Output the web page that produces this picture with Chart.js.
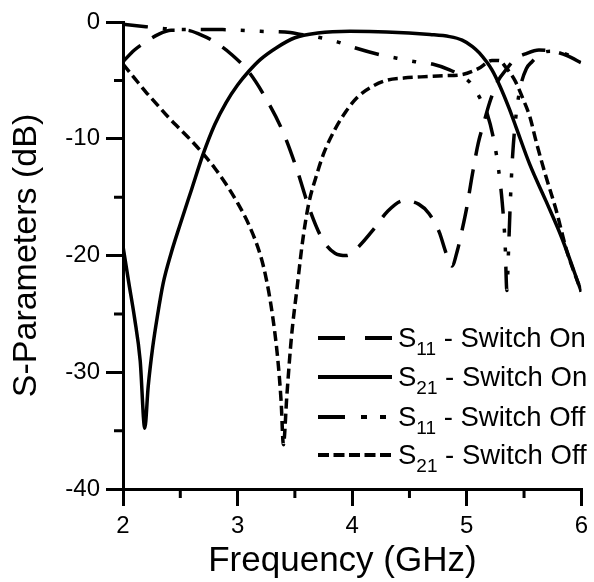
<!DOCTYPE html>
<html><head><meta charset="utf-8">
<script src="https://cdn.jsdelivr.net/npm/chart.js@4.4.1/dist/chart.umd.min.js"></script>
<style>
html,body{margin:0;padding:0;background:#fff;}
#wrap{position:relative;width:594px;height:582px;}
#legend{position:absolute;left:0;top:0;font-family:"Liberation Sans",Arial,sans-serif;font-size:27.5px;color:#000;}
.row{position:absolute;left:318px;height:40px;white-space:nowrap;display:flex;align-items:center;}
.row svg{display:block;margin-right:6px;}
.row sub{font-size:19px;vertical-align:-8px;line-height:0;}
</style>
</head><body>
<div id="wrap">
<canvas id="c" width="594" height="582"></canvas>
<div id="legend"></div>
</div>
<script>
// ---- data ----
const xTicks = [2, 3, 4, 5, 6];
const yTicks = [0, -10, -20, -30, -40];
const xMinor = [2.5, 3.5, 4.5, 5.5];
const yMinor = [-5, -15, -25, -35];

const s11OnF  = [2.0, 2.1, 2.2, 2.3, 2.42, 2.55, 2.68, 2.8, 2.95, 3.1, 3.25, 3.4, 3.52, 3.62, 3.74, 3.85, 3.95, 4.05, 4.2, 4.31, 4.45, 4.58, 4.67, 4.76, 4.82, 4.87, 4.92, 4.96, 5.0, 5.05, 5.1, 5.15, 5.2, 5.27, 5.35, 5.42, 5.52, 5.63, 5.75, 5.88, 6.0];
const s11OnDb = [-3.4, -2.4, -1.7, -1.1, -0.7, -0.7, -1.1, -1.7, -2.8, -4.3, -6.6, -9.5, -12.7, -15.8, -18.6, -19.8, -20.0, -19.3, -17.6, -16.2, -15.3, -15.6, -16.4, -18.0, -19.8, -20.9, -19.5, -17.8, -15.9, -13.0, -10.4, -8.6, -6.9, -5.1, -4.0, -3.2, -2.7, -2.4, -2.5, -2.9, -3.5];

const s21OnF  = [2.0, 2.05, 2.1, 2.15, 2.19, 2.22, 2.26, 2.3, 2.35, 2.42, 2.5, 2.6, 2.7, 2.8, 2.9, 3.0, 3.1, 3.2, 3.34, 3.5, 3.7, 3.98, 4.3, 4.68, 4.85, 4.96, 5.05, 5.11, 5.22, 5.29, 5.37, 5.43, 5.55, 5.69, 5.83, 6.0];
const s21OnDb = [-19.2, -22.3, -25.3, -29.0, -34.8, -31.2, -27.8, -25.2, -22.4, -19.8, -17.3, -14.3, -11.3, -8.8, -6.9, -5.4, -4.2, -3.2, -2.2, -1.35, -0.95, -0.8, -0.85, -1.07, -1.25, -1.55, -2.1, -2.65, -4.1, -5.5, -7.4, -9.0, -12.2, -15.3, -18.5, -23.1];

const s11OffF  = [2.0, 2.2, 2.4, 2.6, 2.87, 3.0, 3.2, 3.46, 3.57, 3.7, 3.87, 4.02, 4.24, 4.39, 4.55, 4.7, 4.85, 4.95, 5.03, 5.12, 5.18, 5.24, 5.28, 5.31, 5.335, 5.35, 5.365, 5.38, 5.4, 5.43, 5.47, 5.52, 5.57, 5.65, 5.73, 5.82, 5.9, 6.0];
const s11OffDb = [-0.2, -0.4, -0.6, -0.65, -0.65, -0.7, -0.8, -0.9, -1.1, -1.3, -1.7, -2.2, -2.8, -3.1, -3.4, -3.6, -4.1, -4.6, -5.2, -6.6, -7.9, -10.3, -12.8, -15.5, -19.0, -23.0, -19.5, -15.5, -11.5, -8.0, -5.5, -4.0, -3.4, -2.7, -2.5, -2.6, -2.9, -3.5];

const s21OffF  = [2.0, 2.1, 2.2, 2.3, 2.4, 2.5, 2.6, 2.7, 2.8, 2.9, 3.0, 3.1, 3.2, 3.25, 3.3, 3.35, 3.38, 3.4, 3.43, 3.47, 3.52, 3.57, 3.62, 3.69, 3.75, 3.85, 3.95, 4.05, 4.18, 4.3, 4.45, 4.6, 4.8, 4.96, 5.1, 5.22, 5.28, 5.35, 5.42, 5.5, 5.55, 5.61, 5.69, 5.78, 5.87, 6.0];
const s21OffDb = [-3.6, -4.8, -6.0, -7.1, -8.2, -9.2, -10.2, -11.3, -12.5, -13.9, -15.5, -17.4, -20.0, -22.0, -24.8, -28.8, -32.5, -36.2, -32.0, -27.0, -22.7, -18.6, -15.6, -13.1, -11.3, -9.2, -7.6, -6.4, -5.5, -5.0, -4.8, -4.7, -4.6, -4.5, -4.0, -3.3, -3.3, -4.0, -5.0, -6.8, -8.1, -10.4, -13.2, -16.1, -19.5, -23.1];

const seriesSubs = ["11", "21", "11", "21"];
const seriesLabels = [" - Switch On", " - Switch On", " - Switch Off", " - Switch Off"];

// ---- styles ----
const dashes = [[24, 14], [], [25, 15, 4, 15, 4, 15], [10, 5]];
const legendDashes = ["27 20", "", "27 16 6 13 6 60", "11 4.5"];
const legendRowY = [338, 377, 417, 455];

function pts(fs, ds) { return fs.map((f, i) => ({x: f, y: ds[i]})); }
const allF = [s11OnF, s21OnF, s11OffF, s21OffF];
const allDb = [s11OnDb, s21OnDb, s11OffDb, s21OffDb];

Chart.defaults.font.family = '"Liberation Sans", Arial, sans-serif';
Chart.defaults.color = '#000';

const minorTicks = {
  id: 'minorTicks',
  afterDraw(chart) {
    const ctx = chart.ctx, xs = chart.scales.x, ys = chart.scales.y;
    ctx.save();
    ctx.strokeStyle = '#000';
    ctx.lineWidth = 3;
    ctx.beginPath();
    xMinor.forEach(v => { const p = xs.getPixelForValue(v); ctx.moveTo(p, xs.top); ctx.lineTo(p, xs.top + 9); });
    yMinor.forEach(v => { const p = ys.getPixelForValue(v); ctx.moveTo(ys.right, p); ctx.lineTo(ys.right - 9, p); });
    ctx.stroke();
    ctx.restore();
  }
};

new Chart(document.getElementById('c'), {
  type: 'line',
  data: {
    datasets: allF.map((f, i) => ({
      label: 'S' + seriesSubs[i] + seriesLabels[i],
      data: pts(f, allDb[i]),
      borderColor: '#000',
      borderWidth: 3.5,
      borderDash: dashes[i],
      pointRadius: 0,
      fill: false,
      cubicInterpolationMode: 'monotone'
    }))
  },
  options: {
    responsive: false,
    animation: false,
    devicePixelRatio: 1,
    layout: {padding: {top: 22, right: 12, left: 0, bottom: 0}},
    plugins: {legend: {display: false}, tooltip: {enabled: false}},
    scales: {
      x: {
        type: 'linear', min: 2, max: 6,
        afterFit: s => { s.height = 93; },
        afterBuildTicks: s => { s.ticks = xTicks.map(v => ({value: v})); },
        ticks: {font: {size: 24}, padding: 6, color: '#000', maxRotation: 0},
        grid: {drawOnChartArea: false, drawTicks: true, tickLength: 17, lineWidth: 3, tickWidth: 3, color: '#000', tickColor: '#000'},
        border: {display: true, width: 3, color: '#000'},
        title: {display: true, text: 'Frequency (GHz)\u00a0\u00a0', font: {size: 35, lineHeight: 1}, padding: {top: 0, bottom: 3}, color: '#000'}
      },
      y: {
        type: 'linear', min: -40, max: 0,
        afterFit: s => { s.width = 123; },
        afterBuildTicks: s => { s.ticks = yTicks.map(v => ({value: v})); },
        ticks: {font: {size: 24}, padding: 6, color: '#000', callback: v => String(v)},
        grid: {drawOnChartArea: false, drawTicks: true, tickLength: 17, lineWidth: 3, tickWidth: 3, color: '#000', tickColor: '#000'},
        border: {display: true, width: 3, color: '#000'},
        title: {display: true, text: 'S-Parameters (dB)', font: {size: 34, lineHeight: 1}, padding: {top: 10, bottom: 0}, color: '#000'}
      }
    }
  },
  plugins: [minorTicks]
});

// ---- legend (HTML, with real subscripts) ----
const lg = document.getElementById('legend');
seriesSubs.forEach((sub, i) => {
  const row = document.createElement('div');
  row.className = 'row';
  row.style.top = (legendRowY[i] - 20) + 'px';
  const dash = legendDashes[i] ? ` stroke-dasharray="${legendDashes[i]}"` : '';
  row.innerHTML = `<svg width="74" height="8"><line x1="0" y1="4" x2="74" y2="4" stroke="#000" stroke-width="4"${dash}/></svg><span>S<sub>${sub}</sub>${seriesLabels[i]}</span>`;
  lg.appendChild(row);
});
</script>
</body></html>
